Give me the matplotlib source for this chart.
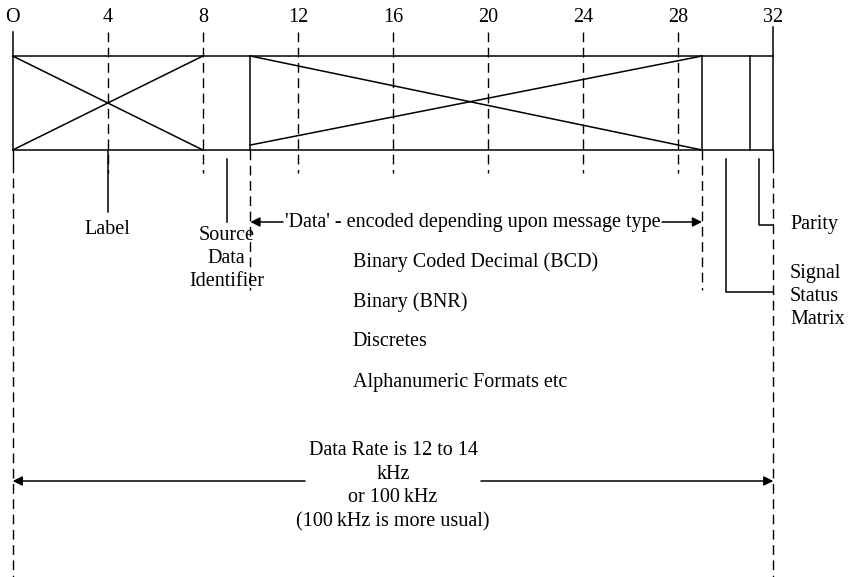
"""ARINC 429 word format diagram (bit layout, field pointers, data rate)."""
import matplotlib
matplotlib.use("Agg")
import matplotlib.pyplot as plt

plt.rcParams.update({
    "font.family": ["Liberation Serif", "DejaVu Serif"],
    "font.size": 14.5,
    "lines.linewidth": 1.1,
})

# bit scale
tick_bits = [0, 4, 8, 12, 16, 20, 24, 28, 32]
tick_labels = ["O", "4", "8", "12", "16", "20", "24", "28", "32"]

# field boundaries (bits)
label_field = (0, 8)
sdi_field = (8, 10)
data_field = (10, 29)
ssm_field = (29, 31)
parity_field = (31, 32)

# pointer positions (bit) for each field name
label_ptr = 4
sdi_ptr = 9
ssm_ptr = 30
parity_ptr = 31.4

data_types = ["Binary Coded Decimal (BCD)", "Binary (BNR)", "Discretes",
              "Alphanumeric Formats etc"]
data_caption = "'Data' - encoded depending upon message type"
rate_text = "Data Rate is 12 to 14\nkHz\nor 100\u2009kHz\n(100\u2009kHz is more usual)"

# vertical layout (px from top)
Y_TICK, Y_DASH0, Y_TOP, Y_BOT, Y_DASH1 = 17, 32, 56, 150, 173
Y_FIELD_LBL, Y_RATE = 222, 481

PX_PER_BIT = 23.77
X0_PX = 12.7
W, H = 853, 577

fig = plt.figure(figsize=(W / 100, H / 100), dpi=100)
ax = fig.add_axes([0, 0, 1, 1])
ax.set_xlim(-X0_PX / PX_PER_BIT, (W - X0_PX) / PX_PER_BIT)
ax.set_ylim(H, 0)
ax.axis("off")

K = "black"
DASH = (0, (7, 4))

# tick numbers and dashed guide lines
for b, t in zip(tick_bits, tick_labels):
    ax.text(b, Y_TICK, t, ha="center", va="center")
    if b not in (tick_bits[0], tick_bits[-1]):
        ax.plot([b, b], [Y_DASH0, Y_DASH1], color=K, ls=DASH, lw=1.0)

# outer box
ax.plot([tick_bits[0], tick_bits[-1]], [Y_TOP, Y_TOP], color=K)
ax.plot([tick_bits[0], tick_bits[-1]], [Y_BOT, Y_BOT], color=K)
ax.plot([0, 0], [Y_DASH0, Y_BOT], color=K)
ax.plot([32, 32], [Y_DASH0 - 5, Y_BOT], color=K)
for b in (data_field[0], ssm_field[0], parity_field[0]):
    ax.plot([b, b], [Y_TOP, Y_BOT], color=K)

# crossed label field
a, b = label_field
ax.plot([a, b], [Y_TOP, Y_BOT], color=K)
ax.plot([a, b], [Y_BOT, Y_TOP], color=K)

# crossed data field
a, b = data_field
ax.plot([a, b], [Y_TOP, Y_BOT], color=K)
ax.plot([a, b], [Y_BOT - 5, Y_TOP], color=K)

# extension lines below the box
for b in (0, 32):
    ax.plot([b, b], [Y_BOT, 172], color=K, lw=1.0)
    ax.plot([b, b], [178, H], color=K, ls=DASH, lw=1.0)
for b in (data_field[0], data_field[1]):
    ax.plot([b, b], [Y_BOT, 290], color=K, ls=DASH, lw=1.0)

# field pointers
ax.plot([label_ptr, label_ptr], [Y_BOT, 212], color=K)
ax.text(label_ptr, 229, "Label", ha="center", va="center")

ax.plot([sdi_ptr, sdi_ptr], [159, Y_FIELD_LBL], color=K)
ax.text(sdi_ptr, 258.5, "Source\nData\nIdentifier", ha="center", va="center",
        linespacing=1.31)

ax.plot([parity_ptr, parity_ptr, 32], [159, 225, 225], color=K)
ax.text(32.7, 225, "Parity", ha="left", va="center")

ax.plot([ssm_ptr, ssm_ptr, 32], [159, 292, 292], color=K)
ax.text(32.7, 296.5, "Signal\nStatus\nMatrix", ha="left", va="center",
        linespacing=1.28)

# data caption with arrows
arrow = dict(arrowstyle="-|>", color=K, lw=1.1, mutation_scale=14,
             shrinkA=0, shrinkB=0)
ax.annotate("", xy=(data_field[0], Y_FIELD_LBL), xytext=(11.37, Y_FIELD_LBL),
            arrowprops=arrow)
ax.annotate("", xy=(data_field[1], Y_FIELD_LBL), xytext=(27.32, Y_FIELD_LBL),
            arrowprops=arrow)
ax.text(11.45, Y_FIELD_LBL, data_caption, ha="left", va="center")

for i, s in enumerate(data_types):
    ax.text(14.3, 262 + 40 * i, s, ha="left", va="center")

# data rate arrows
ax.annotate("", xy=(0, Y_RATE), xytext=(12.3, Y_RATE), arrowprops=arrow)
ax.annotate("", xy=(32, Y_RATE), xytext=(19.7, Y_RATE), arrowprops=arrow)
ax.text(16.0, 486, rate_text, ha="center", va="center", linespacing=1.33)

fig.savefig("out.png", dpi=100)
